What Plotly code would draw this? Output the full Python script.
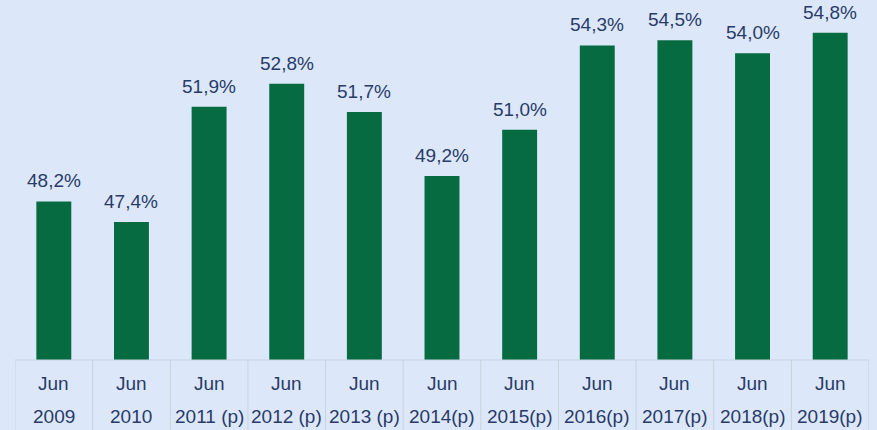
import plotly.graph_objects as go

months = ["Jun"] * 11
years = ["2009", "2010", "2011 (p)", "2012 (p)", "2013 (p)", "2014(p)", "2015(p)",
         "2016(p)", "2017(p)", "2018(p)", "2019(p)"]
values = [48.2, 47.4, 51.9, 52.8, 51.7, 49.2, 51.0, 54.3, 54.5, 54.0, 54.8]

BG = "#dce8f9"
BAR = "#076b42"
TXT = "#2a3b69"
GRID = "#c9d2de"
FONT = "Liberation Sans"

cats = list(range(len(values)))

fig = go.Figure()
fig.add_trace(go.Bar(x=cats, y=values, marker_color=BAR,
                     marker_line_width=0, hoverinfo="skip"))

annotations = []
for i, v in enumerate(values):
    annotations.append(dict(x=i, y=v, xref="x", yref="y", yanchor="bottom",
                            text=f"{v:.1f}%".replace(".", ","), showarrow=False,
                            yshift=8, font=dict(size=19, color=TXT, family=FONT)))
    annotations.append(dict(x=i, y=0, xref="x", yref="paper", yanchor="top",
                            text=months[i], showarrow=False, yshift=-11,
                            font=dict(size=19, color=TXT, family=FONT)))
    annotations.append(dict(x=i, y=0, xref="x", yref="paper", yanchor="top",
                            text=years[i], showarrow=False, yshift=-44,
                            font=dict(size=19, color=TXT, family=FONT)))

shapes = [dict(type="line", xref="paper", yref="paper", x0=0, x1=1, y0=0, y1=0,
               line=dict(color=GRID, width=1))]
for i in range(len(values) + 1):
    shapes.append(dict(type="line", xref="x", yref="paper", x0=i - 0.5, x1=i - 0.5,
                       y0=0, y1=-0.3, line=dict(color=GRID, width=1)))

fig.update_layout(
    width=877, height=430,
    margin=dict(l=15, r=8, t=2, b=70),
    paper_bgcolor=BG, plot_bgcolor=BG,
    bargap=0.55,
    showlegend=False,
    xaxis=dict(type="linear", range=[-0.5, len(values) - 0.5], showticklabels=False,
               showgrid=False, zeroline=False, showline=False),
    yaxis=dict(range=[42, 56], visible=False, showgrid=False, zeroline=False),
    annotations=annotations,
    shapes=shapes,
    font=dict(family=FONT, color=TXT),
)

fig.write_html("out.html",
               config={"displayModeBar": False},
               post_script="document.body.style.margin='0';"
                           "document.body.style.background='#dce8f9';"
                           "document.body.style.overflow='hidden';")
